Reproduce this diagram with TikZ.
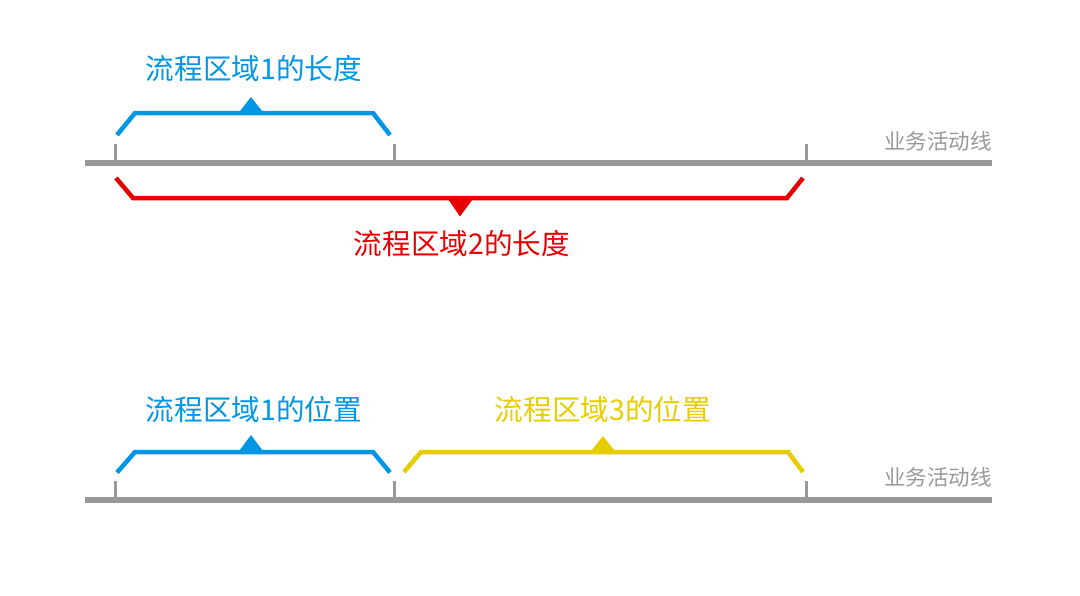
\documentclass[tikz,border=0pt]{standalone}
\usepackage{fontspec}
\setmainfont{Noto Sans CJK SC}
\definecolor{axisgray}{RGB}{153,153,153}
\definecolor{bblue}{RGB}{0,150,230}
\definecolor{bred}{RGB}{230,0,0}
\definecolor{byellow}{RGB}{230,205,0}
\begin{document}
\begin{tikzpicture}[x=1pt,y=-1pt,
  axis/.style={draw=axisgray,line width=6pt},
  tickmark/.style={draw=axisgray,line width=3pt},
  brk/.style={line width=4.5pt,line join=miter},
  lbl/.style={inner sep=0pt,font=\fontsize{28.6}{32}\selectfont},
  axlbl/.style={inner sep=0pt,anchor=east,text=axisgray,font=\fontsize{21.5}{25}\selectfont}]
\useasboundingbox (0,0) rectangle (1080,595);
% ---------- top ----------
\coordinate (a1s) at (85,162.5);
\coordinate (a1e) at (992,162.5);
\draw[axis] (a1s) -- (a1e);
\foreach \x in {115,394,806}{\draw[tickmark] (\x,144) -- (\x,160);}
\node[axlbl] (ax1) at (992,141) {业务活动线};
% blue bracket
\draw[brk,bblue] (117,135) -- (135,113) -- (373,113) -- (390,135);
\fill[bblue] (238,113.5) -- (251,97) -- (264,113.5) -- cycle;
\node[lbl,text=bblue] (t1) at (254,69) {流程区域1的长度};
% red bracket
\draw[brk,bred] (116,178) -- (133,198) -- (787,198) -- (803,178);
\fill[bred] (447,197.5) -- (460,216.5) -- (474,197.5) -- cycle;
\node[lbl,text=bred] (t2) at (462,244) {流程区域2的长度};
% ---------- bottom ----------
\coordinate (a2s) at (85,500);
\coordinate (a2e) at (992,500);
\draw[axis] (a2s) -- (a2e);
\foreach \x in {115,394,806}{\draw[tickmark] (\x,481) -- (\x,497);}
\node[axlbl] (ax2) at (992,477) {业务活动线};
% blue bracket
\draw[brk,bblue] (117,472.5) -- (135,452) -- (373,452) -- (390,472.5);
\fill[bblue] (238,452.5) -- (251,435) -- (264,452.5) -- cycle;
\node[lbl,text=bblue] (t3) at (254,410) {流程区域1的位置};
% yellow bracket
\draw[brk,byellow] (404,472) -- (421,452) -- (788,452) -- (803,472);
\fill[byellow] (590,452.5) -- (603,436) -- (616,452.5) -- cycle;
\node[lbl,text=byellow] (t4) at (603,410) {流程区域3的位置};
\end{tikzpicture}
\end{document}
